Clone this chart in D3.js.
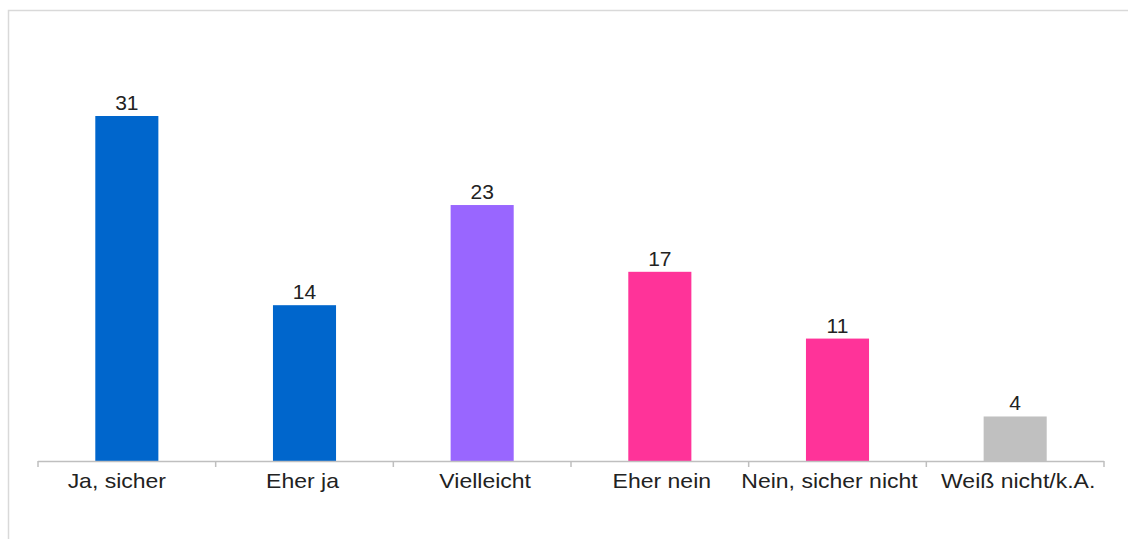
<!DOCTYPE html>
<html>
<head>
<meta charset="utf-8">
<script src="https://cdn.jsdelivr.net/npm/d3@7"></script>
<style>
  body { margin: 0; background: #fff; }
  svg { display: block; font-family: "Liberation Sans", Arial, sans-serif; }
</style>
</head>
<body>
<svg id="chart"></svg>
<script>
const categories = ['Ja, sicher', 'Eher ja', 'Vielleicht', 'Eher nein', 'Nein, sicher nicht', 'Weiß nicht/k.A.'];
const values = [31, 14, 23, 17, 11, 4];
const barColors = ['#0066cc', '#0066cc', '#9966ff', '#ff3399', '#ff3399', '#c0c0c0'];

const width = 1128, height = 539;
const margin = { top: 116, right: 24, bottom: 78, left: 38 };
// small horizontal nudges of the category labels, as in the original
const labelNudge = [-10, -2, 3, 2, -8, 3];

const svg = d3.select('#chart')
    .attr('width', width)
    .attr('height', height);

// frame
svg.append('path')
    .attr('d', 'M8.5,' + height + 'V10.5H' + width)
    .attr('fill', 'none')
    .attr('stroke', '#d9d9d9')
    .attr('stroke-width', 1.5);

const x = d3.scaleBand()
    .domain(categories)
    .range([margin.left, width - margin.right])
    .paddingInner(0.645)
    .paddingOuter(0.3225);

const y = d3.scaleLinear()
    .domain([0, 31])
    .range([height - margin.bottom, margin.top]);

const baseY = y(0);

svg.selectAll('rect.bar')
    .data(values)
    .enter()
    .append('rect')
    .attr('class', 'bar')
    .attr('x', (d, i) => x(categories[i]))
    .attr('y', d => y(d))
    .attr('width', x.bandwidth())
    .attr('height', d => baseY - y(d))
    .attr('fill', (d, i) => barColors[i]);

svg.selectAll('text.value')
    .data(values)
    .enter()
    .append('text')
    .attr('class', 'value')
    .attr('x', (d, i) => x(categories[i]) + x.bandwidth() / 2)
    .attr('y', d => y(d) - 6)
    .attr('text-anchor', 'middle')
    .attr('font-size', '21px')
    .attr('fill', '#222')
    .text(d => d);

// axis line and ticks between categories
const step = x.step();
const ticks = d3.range(categories.length + 1).map(i => margin.left + i * step);
const axis = svg.append('g');
axis.append('line')
    .attr('x1', margin.left)
    .attr('x2', width - margin.right)
    .attr('y1', baseY + 0.5)
    .attr('y2', baseY + 0.5)
    .attr('stroke', '#bfbfbf')
    .attr('stroke-width', 1.5);
axis.selectAll('line.tick')
    .data(ticks)
    .enter()
    .append('line')
    .attr('class', 'tick')
    .attr('x1', d => d)
    .attr('x2', d => d)
    .attr('y1', baseY)
    .attr('y2', baseY + 6)
    .attr('stroke', '#bfbfbf')
    .attr('stroke-width', 1.5);

// category labels, a little wider than normal like the original
svg.selectAll('text.cat')
    .data(categories)
    .enter()
    .append('text')
    .attr('class', 'cat')
    .attr('transform', (d, i) => 'translate(' + (x(d) + x.bandwidth() / 2 + labelNudge[i]) + ',' + (baseY + 27) + ') scale(1.15,1)')
    .attr('text-anchor', 'middle')
    .attr('font-size', '20px')
    .attr('fill', '#222')
    .text(d => d);
</script>
</body>
</html>
